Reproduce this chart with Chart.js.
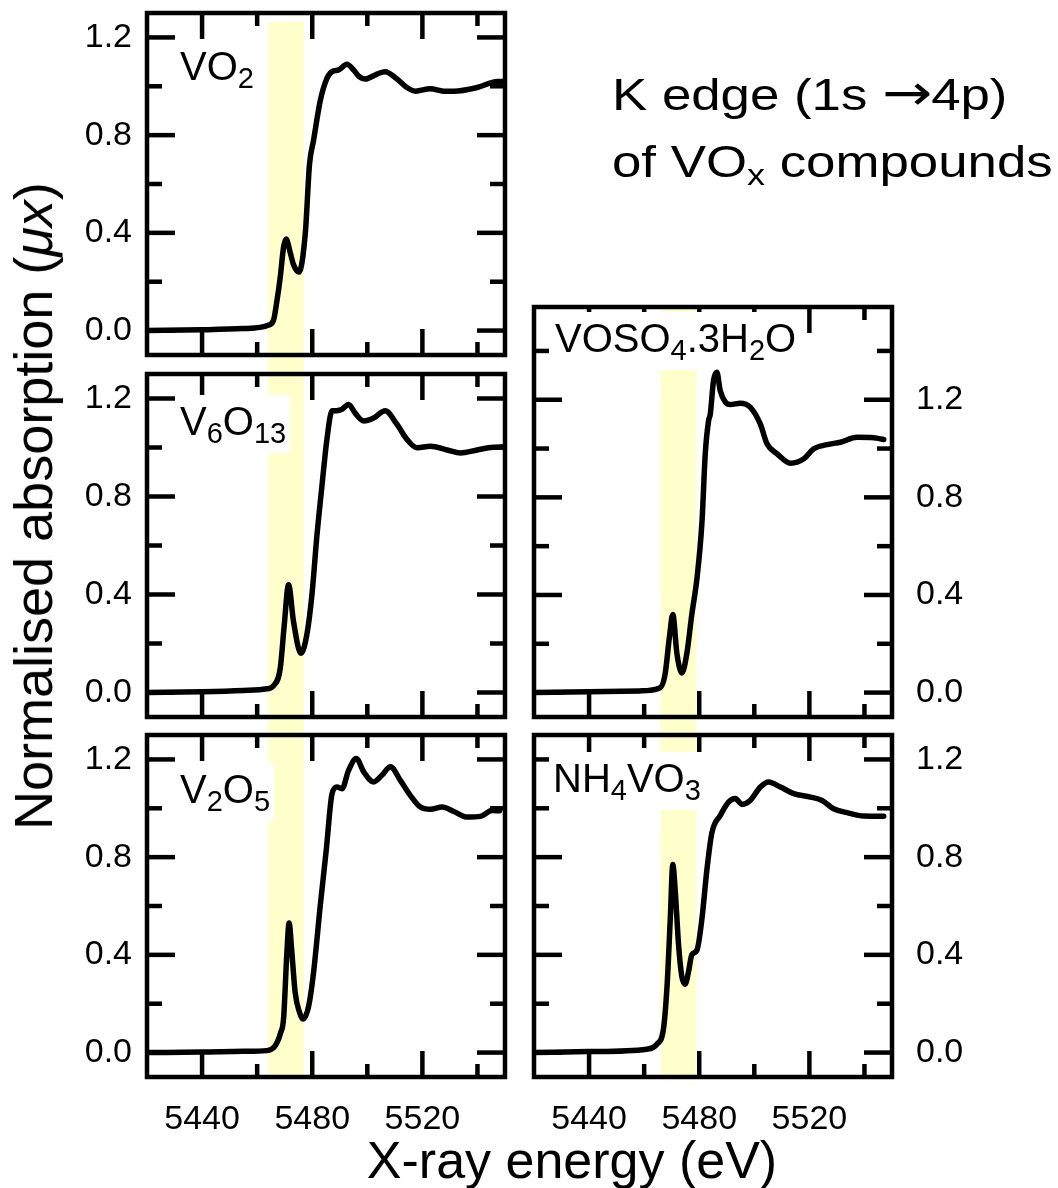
<!DOCTYPE html>
<html>
<head>
<meta charset="utf-8">
<title>V K-edge XANES of VOx compounds</title>
<script src="https://cdn.jsdelivr.net/npm/chart.js@4.4.1/dist/chart.umd.min.js"></script>
<style>
  body { margin: 0; background: #fff; }
  #wrap { position: relative; width: 1058px; height: 1188px; overflow: hidden; font-family: "Liberation Sans", Arial, sans-serif; color: #000; }
  #wrap canvas { position: absolute; left: 0; top: 0; }
  .ytitle { position: absolute; left: 33px; top: 506px; font-size: 54px; line-height: 1; white-space: nowrap; transform: translate(-50%, -50%) rotate(-90deg); }
  .xtitle { position: absolute; left: 572px; top: 1134px; font-size: 52px; line-height: 1; white-space: nowrap; transform: translateX(-50%); }
  .note { position: absolute; left: 612px; top: 61px; font-size: 44px; line-height: 67px; white-space: nowrap; transform-origin: left top; transform: scaleX(1.2); }
  .note .sub { position: relative; top: 8px; font-size: 30px; }
  .note .arrow { font-family: "DejaVu Sans", sans-serif; font-size: 50px; line-height: 0; letter-spacing: -1px; }
</style>
</head>
<body>
<div id="wrap">
  <canvas id="vo2" width="1058" height="1188"></canvas>
  <canvas id="v6o13" width="1058" height="1188"></canvas>
  <canvas id="v2o5" width="1058" height="1188"></canvas>
  <canvas id="voso4" width="1058" height="1188"></canvas>
  <canvas id="nh4vo3" width="1058" height="1188"></canvas>
  <div class="ytitle">Normalised absorption (<i>μx</i>)</div>
  <div class="xtitle">X-ray energy (eV)</div>
  <div class="note">K edge (1s <span class="arrow">→</span>4p)<br>of VO<span class="sub">x</span> compounds</div>
</div>
<script>
// tick values / labels (empty label = minor tick)
const energyTickValues = [5440, 5460, 5480, 5500, 5520, 5540];
const energyTickLabels = ["5440", "", "5480", "", "5520", ""];
const absTickValues = [0, 0.2, 0.4, 0.6, 0.8, 1.0, 1.2, 1.4];
const absTickLabels = ["0.0", "", "0.4", "", "0.8", "", "1.2", ""];

// pre-edge highlight (eV)
const bandLeft = [5464, 5477];
const bandRight = [5466, 5479];

// compound names, [text, isSubscript]
const vo2Label = [["VO", 0], ["2", 1]];
const v6o13Label = [["V", 0], ["6", 1], ["O", 0], ["13", 1]];
const v2o5Label = [["V", 0], ["2", 1], ["O", 0], ["5", 1]];
const voso4Label = [["VOSO", 0], ["4", 1], [".3H", 0], ["2", 1], ["O", 0]];
const nh4vo3Label = [["NH", 0], ["4", 1], ["VO", 0], ["3", 1]];

// spectra: energy (eV) and normalised absorption
const vo2Energy = [5420, 5440, 5455, 5461, 5464, 5465.9, 5467.2, 5468.4, 5469.6, 5470.5, 5472, 5473.2, 5475.2, 5477.5, 5479, 5480.5, 5482.9, 5485.1, 5487.2, 5489.6, 5492.6, 5495, 5497, 5499.3, 5503.5, 5506.5, 5510.8, 5514.4, 5517.5, 5522.9, 5527.7, 5531.4, 5539.9, 5547.2, 5550];
const vo2Abs = [0.0, 0.003, 0.008, 0.013, 0.022, 0.041, 0.123, 0.22, 0.342, 0.375, 0.32, 0.27, 0.24, 0.40, 0.68, 0.78, 0.94, 1.026, 1.06, 1.067, 1.09, 1.067, 1.04, 1.03, 1.05, 1.06, 1.03, 0.995, 0.98, 0.99, 0.98, 0.98, 0.995, 1.02, 1.02];

const v6o13Energy = [5420, 5440, 5455, 5463.5, 5465.9, 5468.4, 5469.8, 5471.4, 5473.2, 5475.9, 5478.1, 5479.9, 5481.7, 5483.5, 5485.3, 5487.2, 5489, 5490.8, 5493.2, 5495.6, 5498.7, 5502.3, 5506.5, 5510.8, 5514.4, 5518.1, 5522.9, 5529, 5533.8, 5539.9, 5544.7, 5550];
const v6o13Abs = [0.0, 0.003, 0.008, 0.015, 0.027, 0.10, 0.27, 0.44, 0.29, 0.16, 0.24, 0.40, 0.64, 0.84, 1.03, 1.15, 1.15, 1.156, 1.176, 1.14, 1.108, 1.12, 1.15, 1.094, 1.033, 0.999, 1.005, 0.99, 0.978, 0.99, 1.0, 1.003];

const v2o5Energy = [5420, 5440, 5455, 5463.5, 5466.5, 5468.5, 5469.6, 5470.8, 5471.6, 5472.6, 5473.8, 5475.4, 5476.6, 5478.7, 5480.5, 5482.9, 5485.1, 5487.2, 5489, 5490.8, 5493.2, 5496, 5498.7, 5502.3, 5505.3, 5508.4, 5512, 5515.6, 5519.3, 5522.9, 5527.2, 5531.4, 5536.3, 5541.1, 5545.3, 5548];
const v2o5Abs = [0.0, 0.002, 0.005, 0.008, 0.027, 0.08, 0.14, 0.41, 0.53, 0.41, 0.246, 0.164, 0.137, 0.19, 0.33, 0.60, 0.83, 1.06, 1.087, 1.08, 1.155, 1.204, 1.149, 1.108, 1.135, 1.17, 1.114, 1.053, 1.005, 0.996, 1.005, 0.987, 0.964, 0.967, 0.991, 0.99];

const voso4Energy = [5420, 5440, 5458.5, 5465.8, 5467.6, 5469.2, 5470.4, 5471.9, 5473.7, 5475.5, 5477.3, 5479.2, 5481, 5482.2, 5483.4, 5484, 5485.2, 5486.4, 5487.6, 5489.5, 5491.3, 5494.9, 5498.5, 5502.2, 5504.6, 5508.3, 5513.1, 5518, 5521.6, 5526.4, 5531.3, 5537.3, 5543.4, 5547];
const voso4Abs = [0.0, 0.003, 0.007, 0.02, 0.075, 0.23, 0.32, 0.16, 0.08, 0.16, 0.32, 0.47, 0.70, 0.98, 1.115, 1.14, 1.28, 1.313, 1.238, 1.19, 1.18, 1.186, 1.17, 1.10, 1.02, 0.978, 0.94, 0.958, 0.999, 1.016, 1.026, 1.046, 1.044, 1.037];

const nh4vo3Energy = [5420, 5440, 5461, 5464.6, 5467, 5468.3, 5469.5, 5470.4, 5471.3, 5472.5, 5473.7, 5474.9, 5476.1, 5477.3, 5479.2, 5481, 5482.8, 5484.6, 5487.6, 5490.7, 5493.1, 5495.5, 5498.5, 5502.2, 5505.2, 5509.5, 5514.3, 5520.4, 5524.6, 5528.8, 5533.7, 5539.7, 5547];
const nh4vo3Abs = [0.0, 0.004, 0.014, 0.034, 0.096, 0.27, 0.55, 0.77, 0.66, 0.44, 0.31, 0.28, 0.33, 0.40, 0.42, 0.55, 0.75, 0.90, 0.97, 1.026, 1.04, 1.016, 1.032, 1.087, 1.108, 1.087, 1.06, 1.046, 1.032, 0.998, 0.982, 0.968, 0.967];

const FONT = '"Liberation Sans", Arial, sans-serif';

// frame, inward ticks on all sides, yellow band and the compound name
const panelDecor = {
  id: "panelDecor",
  beforeDatasetsDraw(chart, args, o) {
    const { ctx, chartArea: a, scales: { x, y } } = chart;
    ctx.save();

    const bx0 = x.getPixelForValue(o.band[0]);
    const bx1 = x.getPixelForValue(o.band[1]);
    ctx.fillStyle = "#ffffcc";
    ctx.fillRect(bx0, a.top + o.bandTop, bx1 - bx0, a.bottom - a.top - o.bandTop + o.bandBottom);

    ctx.strokeStyle = "#000";
    ctx.lineWidth = 4.5;
    ctx.lineCap = "butt";
    const seg = (x1, y1, x2, y2) => {
      ctx.beginPath();
      ctx.moveTo(x1, y1);
      ctx.lineTo(x2, y2);
      ctx.stroke();
    };
    energyTickValues.forEach((v, i) => {
      const px = x.getPixelForValue(v);
      const len = energyTickLabels[i] ? 26 : 13;
      seg(px, a.bottom, px, a.bottom - len);
      seg(px, a.top, px, a.top + len);
    });
    absTickValues.forEach((v, i) => {
      if (v > y.max) return;
      const py = y.getPixelForValue(v);
      const len = absTickLabels[i] ? 28 : 15;
      seg(a.left, py, a.left + len, py);
      seg(a.right, py, a.right - len, py);
    });
    ctx.strokeRect(a.left, a.top, a.right - a.left, a.bottom - a.top);

    // compound name on a white patch
    const base = a.top + o.labelAt[1];
    let tx = a.left + o.labelAt[0];
    const widths = o.label.map(([t, sub]) => {
      ctx.font = (sub ? "29px " : "40px ") + FONT;
      return ctx.measureText(t).width;
    });
    const total = widths.reduce((s, w) => s + w, 0);
    ctx.fillStyle = "#fff";
    ctx.fillRect(tx - 4, base - 40, total + 8, 58);
    ctx.fillStyle = "#000";
    ctx.textBaseline = "alphabetic";
    o.label.forEach(([t, sub], i) => {
      ctx.font = (sub ? "29px " : "40px ") + FONT;
      ctx.fillText(t, tx, base + (sub ? 8 : 0));
      tx += widths[i];
    });
    ctx.restore();
  }
};

function makePanel(p) {
  const points = p.energy.map((e, i) => ({ x: e, y: p.abs[i] }));
  return new Chart(document.getElementById(p.id), {
    type: "line",
    data: {
      datasets: [{
        data: points,
        borderColor: "#000",
        borderWidth: 5.5,
        pointRadius: 0,
        cubicInterpolationMode: "monotone",
        borderJoinStyle: "round",
        borderCapStyle: "round"
      }]
    },
    plugins: [panelDecor],
    options: {
      responsive: false,
      animation: false,
      devicePixelRatio: 1,
      layout: { padding: p.pad, autoPadding: false },
      events: [],
      plugins: {
        legend: { display: false },
        tooltip: { enabled: false },
        panelDecor: { band: p.band, bandTop: p.bandTop, bandBottom: p.bandBottom, label: p.label, labelAt: p.labelAt }
      },
      scales: {
        x: {
          type: "linear",
          min: 5420,
          max: 5550,
          position: "bottom",
          display: p.showX,
          afterFit: p.showX ? (s) => { s.height = 80; s.paddingLeft = 0; s.paddingRight = 0; } : undefined,
          afterBuildTicks: (s) => { s.ticks = energyTickValues.map((v) => ({ value: v })); },
          grid: { display: false, drawTicks: false },
          border: { display: false },
          ticks: {
            autoSkip: false,
            maxRotation: 0,
            padding: 22,
            color: "#000",
            font: { family: FONT, size: 34 },
            callback: (v, i) => energyTickLabels[i]
          }
        },
        y: {
          type: "linear",
          min: -0.1,
          max: p.yMax,
          position: p.side,
          afterFit: (s) => { s.width = 90; s.paddingTop = 0; s.paddingBottom = 0; },
          afterBuildTicks: (s) => { s.ticks = absTickValues.filter((v) => v <= p.yMax).map((v) => ({ value: v })); },
          grid: { display: false, drawTicks: false },
          border: { display: false },
          ticks: {
            padding: p.side === "left" ? 15 : 24,
            color: "#000",
            font: { family: FONT, size: 34 },
            callback: (v, i) => absTickLabels[i]
          }
        }
      }
    }
  });
}

makePanel({ id: "vo2", energy: vo2Energy, abs: vo2Abs, label: vo2Label, band: bandLeft, side: "left", yMax: 1.3, showX: false,
  pad: { left: 57, top: 13, right: 553, bottom: 833 }, bandTop: 9, bandBottom: 10, labelAt: [33, 67] });
makePanel({ id: "v6o13", energy: v6o13Energy, abs: v6o13Abs, label: v6o13Label, band: bandLeft, side: "left", yMax: 1.3, showX: false,
  pad: { left: 57, top: 374, right: 553, bottom: 471 }, bandTop: -10, bandBottom: 10, labelAt: [33, 61] });
makePanel({ id: "v2o5", energy: v2o5Energy, abs: v2o5Abs, label: v2o5Label, band: bandLeft, side: "left", yMax: 1.3, showX: true,
  pad: { left: 57, top: 735, right: 553, bottom: 31 }, bandTop: -10, bandBottom: 2, labelAt: [33, 68] });
makePanel({ id: "voso4", energy: voso4Energy, abs: voso4Abs, label: voso4Label, band: bandRight, side: "right", yMax: 1.58, showX: false,
  pad: { left: 534, top: 307, right: 76, bottom: 471 }, bandTop: 2, bandBottom: 10, labelAt: [21, 45] });
makePanel({ id: "nh4vo3", energy: nh4vo3Energy, abs: nh4vo3Abs, label: nh4vo3Label, band: bandRight, side: "right", yMax: 1.3, showX: true,
  pad: { left: 534, top: 735, right: 76, bottom: 31 }, bandTop: -10, bandBottom: 2, labelAt: [19, 57] });
</script>
</body>
</html>
